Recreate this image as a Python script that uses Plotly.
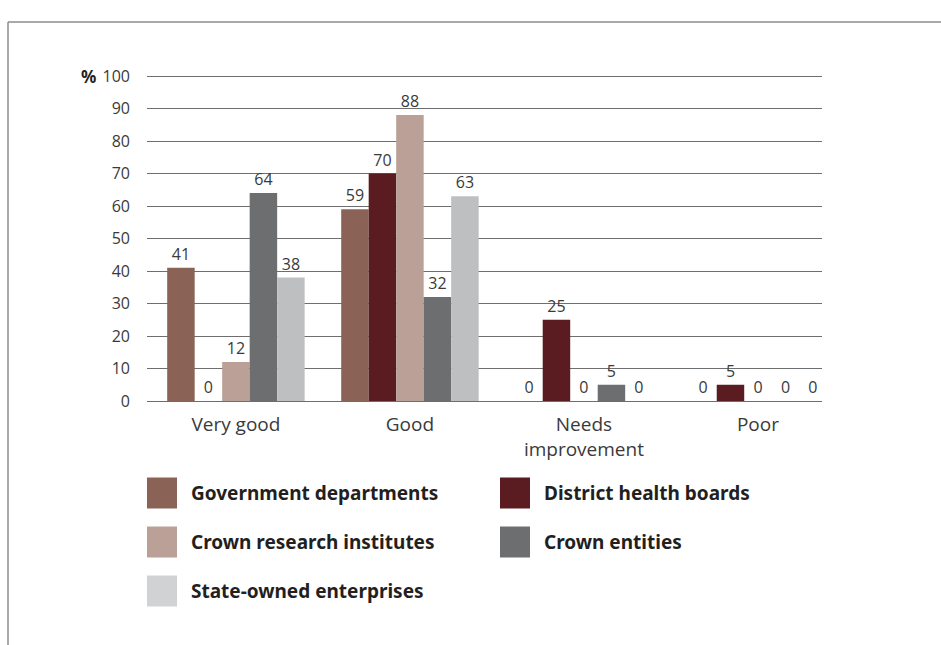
import plotly.graph_objects as go

# Ratings by entity type (% of entities)
categories = ["Very good", "Good", "Needs<br>improvement", "Poor"]
series_names = [
    "Government departments",
    "District health boards",
    "Crown research institutes",
    "Crown entities",
    "State-owned enterprises",
]
gov_departments = [41, 59, 0, 0]
district_health_boards = [0, 70, 25, 5]
crown_research_institutes = [12, 88, 0, 0]
crown_entities = [64, 32, 5, 0]
state_owned_enterprises = [38, 63, 0, 0]
y_ticks = [0, 10, 20, 30, 40, 50, 60, 70, 80, 90, 100]

series_values = [
    gov_departments,
    district_health_boards,
    crown_research_institutes,
    crown_entities,
    state_owned_enterprises,
]
colors = ["#8a6356", "#5a1c21", "#baa096", "#6d6e70", "#bebfc1"]
legend_colors = ["#8a6356", "#5a1c21", "#baa096", "#6d6e70", "#d1d2d4"]

W, H = 941, 645
L, R, T, B = 147, 822, 73, 401  # plot-area pixel edges
Y_MAX = 100 + (76 - T) / 3.25   # a little headroom so the 100 gridline is kept

fig = go.Figure()
for name, vals, col in zip(series_names, series_values, colors):
    fig.add_trace(go.Bar(
        x=categories, y=vals, name=name,
        marker=dict(color=col, line=dict(width=0)),
        text=[str(v) for v in vals], textposition="outside",
        textfont=dict(family="Open Sans", size=16, color="#3a3a3a"),
        cliponaxis=False, showlegend=False,
    ))


def px_x(p):
    return (p - L) / (R - L)


def px_y(p):
    return (B - p) / (B - T)


shapes = []
annotations = []

# outer frame (left and top edges)
shapes.append(dict(type="line", xref="paper", yref="paper",
                   x0=px_x(8), x1=px_x(8), y0=px_y(22), y1=px_y(H + 5),
                   line=dict(color="#8c8c8c", width=1.5)))
shapes.append(dict(type="line", xref="paper", yref="paper",
                   x0=px_x(8), x1=px_x(W + 5), y0=px_y(22), y1=px_y(22),
                   line=dict(color="#8c8c8c", width=1.5)))

# custom legend: two columns, three rows
legend_pos = [(147, 493), (500, 493), (147, 542), (500, 542), (147, 591)]
for (lx, ly), name, col in zip(legend_pos, series_names, legend_colors):
    shapes.append(dict(type="rect", xref="paper", yref="paper",
                       x0=px_x(lx), x1=px_x(lx + 30),
                       y0=px_y(ly - 15.5), y1=px_y(ly + 15.5),
                       fillcolor=col, line=dict(width=0)))
    annotations.append(dict(xref="paper", yref="paper",
                            x=px_x(lx + 42), y=px_y(ly),
                            xanchor="left", yanchor="middle", showarrow=False,
                            text="<b>" + name + "</b>",
                            font=dict(family="Noto Sans", size=19, color="#231f20")))

# percent sign beside the top tick
annotations.append(dict(xref="paper", yref="paper", x=px_x(98), y=px_y(76),
                        xanchor="right", yanchor="middle", showarrow=False,
                        text="<b>%</b>",
                        font=dict(family="Noto Sans", size=17, color="#231f20")))

fig.update_layout(
    width=W, height=H,
    margin=dict(l=L, r=W - R, t=T, b=H - B, pad=0),
    paper_bgcolor="white", plot_bgcolor="white",
    barmode="group", bargap=0.21, bargroupgap=0,
    shapes=shapes, annotations=annotations,
    xaxis=dict(
        type="category", range=[-0.511, 3.368],
        showgrid=False, showline=False, zeroline=False,
        ticks="", ticklabelstandoff=10,
        tickfont=dict(family="Open Sans", size=19, color="#3a3a3a"),
    ),
    yaxis=dict(
        range=[0, Y_MAX], tickvals=y_ticks,
        showgrid=True, gridcolor="#6e6e6e", gridwidth=1,
        zeroline=True, zerolinecolor="#6e6e6e", zerolinewidth=1,
        showline=False, ticks="", ticklabelstandoff=16,
        tickfont=dict(family="Open Sans", size=16, color="#3a3a3a"),
    ),
)

fig.write_html("out.html")
